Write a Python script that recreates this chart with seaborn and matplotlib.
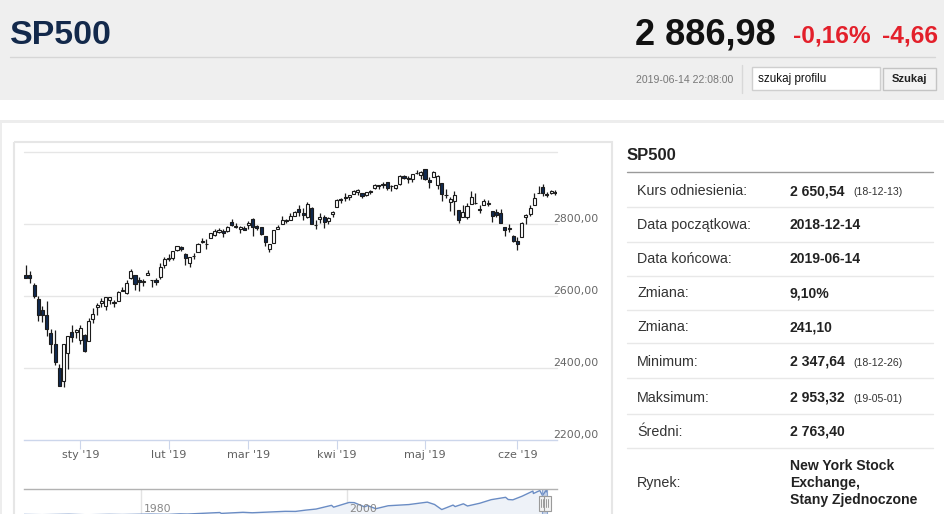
import numpy as np
import pandas as pd
import matplotlib
matplotlib.use("Agg")
import matplotlib.pyplot as plt
from matplotlib.patches import Rectangle
from matplotlib import font_manager
import seaborn as sns

# trading days 2018-12-12 .. 2019-06-14 (NYSE holidays removed)
holidays = ["2018-12-25", "2019-01-01", "2019-01-21", "2019-02-18", "2019-04-19", "2019-05-27"]
dates = pd.bdate_range("2018-12-12", "2019-06-14").drop(pd.to_datetime(holidays))

opens = [2658.2, 2658.7, 2629.7, 2590.8, 2559.9, 2547.1, 2496.8, 2465.4, 2400.6, 2363.1,
         2442.5, 2498.8, 2498.9, 2477.0, 2491.9, 2474.3, 2535.6, 2568.1, 2580.0, 2573.5,
         2588.1, 2580.3, 2585.1, 2614.8, 2609.3, 2651.3, 2657.9, 2643.5, 2638.8, 2657.4,
         2645.0, 2644.9, 2653.6, 2685.5, 2702.3, 2706.5, 2728.3, 2735.1, 2717.5, 2692.4,
         2712.4, 2722.6, 2750.3, 2743.5, 2760.2, 2769.3, 2779.1, 2780.7, 2780.7, 2804.4,
         2792.4, 2787.5, 2788.1, 2798.2, 2814.4, 2794.4, 2790.3, 2766.5, 2730.8, 2747.6,
         2787.3, 2799.8, 2810.4, 2810.8, 2822.6, 2840.8, 2831.3, 2819.7, 2844.5, 2796.0,
         2812.7, 2819.7, 2809.4, 2828.3, 2848.6, 2868.2, 2876.1, 2874.0, 2884.2, 2888.5,
         2886.6, 2881.4, 2891.9, 2900.9, 2908.3, 2912.3, 2916.0, 2904.8, 2898.8, 2910.0,
         2934.0, 2929.0, 2925.8, 2940.6, 2937.1, 2952.3, 2922.2, 2929.2, 2908.9, 2913.0,
         2879.6, 2859.8, 2863.1, 2840.2, 2820.1, 2820.4, 2855.8, 2858.6, 2841.9, 2854.0,
         2856.1, 2836.7, 2832.4, 2830.0, 2790.3, 2786.9, 2766.2, 2751.5, 2762.6, 2818.1,
         2828.5, 2852.9, 2885.8, 2903.3, 2882.7, 2886.2, 2886.8]
highs = [2685.4, 2670.2, 2635.1, 2601.1, 2573.0, 2585.3, 2509.6, 2504.4, 2410.3, 2467.8,
         2489.1, 2520.3, 2509.2, 2519.5, 2493.1, 2538.1, 2566.2, 2579.8, 2595.3, 2597.8,
         2596.3, 2589.3, 2613.1, 2625.8, 2645.1, 2675.5, 2657.9, 2653.2, 2647.2, 2672.4,
         2645.0, 2650.9, 2690.4, 2709.0, 2716.7, 2725.0, 2739.0, 2738.1, 2719.3, 2708.1,
         2718.1, 2748.2, 2761.9, 2757.9, 2775.7, 2787.3, 2789.9, 2785.4, 2794.2, 2813.5,
         2803.1, 2795.8, 2793.7, 2808.0, 2816.9, 2796.4, 2790.3, 2767.3, 2744.1, 2784.0,
         2798.3, 2821.2, 2815.0, 2830.7, 2835.4, 2852.4, 2843.5, 2860.3, 2846.2, 2809.8,
         2829.9, 2825.6, 2819.7, 2836.0, 2869.4, 2872.9, 2885.3, 2881.3, 2893.2, 2896.0,
         2886.9, 2889.7, 2893.4, 2910.5, 2909.6, 2916.1, 2918.0, 2908.5, 2909.5, 2936.3,
         2936.8, 2933.1, 2939.9, 2949.5, 2948.2, 2954.1, 2931.7, 2947.9, 2937.3, 2913.0,
         2898.0, 2876.0, 2891.3, 2840.2, 2852.5, 2858.7, 2892.2, 2885.5, 2853.9, 2868.9,
         2865.5, 2836.7, 2841.4, 2840.5, 2792.0, 2799.0, 2769.0, 2763.1, 2804.5, 2827.3,
         2852.1, 2885.0, 2904.8, 2910.6, 2888.6, 2895.2, 2894.5]
lows = [2650.3, 2637.3, 2593.8, 2530.5, 2528.7, 2489.0, 2441.2, 2408.6, 2351.1, 2346.6,
        2397.9, 2472.9, 2482.8, 2467.5, 2444.0, 2474.3, 2524.6, 2547.6, 2568.9, 2562.0,
        2577.4, 2570.4, 2585.1, 2612.7, 2606.4, 2647.6, 2617.3, 2612.9, 2627.0, 2657.3,
        2624.1, 2631.1, 2648.3, 2678.7, 2696.9, 2698.8, 2724.0, 2724.2, 2687.3, 2681.8,
        2703.8, 2722.6, 2748.6, 2731.2, 2760.2, 2767.3, 2774.1, 2764.3, 2779.1, 2795.0,
        2789.5, 2775.1, 2782.5, 2787.4, 2767.7, 2782.0, 2768.7, 2739.1, 2722.3, 2747.6,
        2786.7, 2799.8, 2803.5, 2810.8, 2822.0, 2823.3, 2812.4, 2817.4, 2800.5, 2785.0,
        2804.0, 2787.7, 2798.8, 2819.2, 2848.6, 2858.8, 2865.2, 2867.1, 2883.0, 2880.8,
        2873.3, 2879.1, 2882.0, 2898.4, 2896.5, 2900.7, 2895.4, 2891.9, 2896.4, 2908.5,
        2926.1, 2912.8, 2917.6, 2939.4, 2924.1, 2923.4, 2900.5, 2929.2, 2898.2, 2862.6,
        2873.3, 2836.4, 2825.4, 2801.4, 2820.1, 2815.1, 2855.8, 2854.2, 2831.3, 2854.0,
        2851.1, 2805.5, 2820.2, 2801.6, 2766.1, 2776.7, 2750.5, 2728.8, 2762.6, 2800.9,
        2822.5, 2852.9, 2885.5, 2878.5, 2874.7, 2882.0, 2879.6]
closes = [2651.1, 2650.5, 2600.0, 2545.9, 2546.2, 2507.0, 2467.4, 2416.6, 2351.1, 2467.7,
          2488.8, 2485.7, 2506.9, 2510.0, 2447.9, 2531.9, 2549.7, 2574.4, 2585.0, 2596.6,
          2596.3, 2582.6, 2610.3, 2616.1, 2636.0, 2670.7, 2632.9, 2638.7, 2642.3, 2664.8,
          2643.9, 2640.0, 2681.1, 2704.1, 2706.5, 2724.9, 2737.7, 2731.6, 2706.1, 2707.9,
          2709.8, 2744.7, 2753.0, 2745.7, 2775.6, 2779.8, 2784.7, 2774.9, 2792.7, 2796.1,
          2793.9, 2792.4, 2784.5, 2803.7, 2792.8, 2789.7, 2771.5, 2748.9, 2743.1, 2783.3,
          2791.5, 2810.9, 2808.5, 2822.5, 2832.9, 2832.6, 2824.2, 2854.9, 2800.7, 2798.4,
          2818.5, 2805.4, 2815.4, 2834.4, 2867.2, 2867.2, 2873.4, 2879.4, 2892.7, 2895.8,
          2878.2, 2888.2, 2888.3, 2907.4, 2905.6, 2907.1, 2900.5, 2905.0, 2908.0, 2933.7,
          2927.3, 2926.2, 2939.9, 2943.0, 2945.8, 2923.7, 2917.5, 2945.6, 2932.5, 2884.1,
          2879.4, 2870.7, 2881.4, 2811.9, 2834.4, 2851.0, 2876.3, 2859.5, 2840.2, 2864.4,
          2856.3, 2822.2, 2826.1, 2802.4, 2783.0, 2788.9, 2752.1, 2744.5, 2803.3, 2826.2,
          2843.5, 2873.3, 2886.7, 2885.7, 2879.8, 2891.6, 2887.0]

y_levels = [2200, 2400, 2600, 2800]
month_names = {1: "sty", 2: "lut", 3: "mar", 4: "kwi", 5: "maj", 6: "cze"}

# long history for the navigator
nav_years = [1968.6, 1970.4, 1973.0, 1974.75, 1976.9, 1978.2, 1980.9, 1982.6, 1983.8, 1984.5,
             1987.65, 1987.8, 1989.9, 1990.8, 1994.0, 1995.0, 1996.0, 1997.0, 1998.5, 1998.7,
             2000.2, 2000.7, 2001.7, 2002.0, 2002.8, 2004.0, 2006.0, 2007.8, 2008.5, 2009.2,
             2010.3, 2010.5, 2011.3, 2011.7, 2012.9, 2014.0, 2015.4, 2015.65, 2016.1, 2017.0,
             2018.05, 2018.1, 2018.72, 2018.98, 2019.33, 2019.42, 2019.45]
nav_values = [98, 72, 118, 64, 107, 87, 140, 103, 170, 150,
              330, 225, 355, 300, 470, 460, 615, 740, 1180, 960,
              1520, 1500, 1000, 1150, 780, 1130, 1270, 1560, 1280, 680,
              1210, 1030, 1360, 1100, 1430, 1850, 2130, 1870, 1830, 2260,
              2870, 2580, 2930, 2351, 2945, 2745, 2887]
nav_grid_years = [1980, 2000]

info_labels = ["Kurs odniesienia:", "Data początkowa:", "Data końcowa:", "Zmiana:", "Zmiana:",
               "Minimum:", "Maksimum:", "Średni:", "Rynek:"]
info_values = ["2 650,54", "2018-12-14", "2019-06-14", "9,10%", "241,10",
               "2 347,64", "2 953,32", "2 763,40", "New York Stock\nExchange,\nStany Zjednoczone"]
info_notes = ["(18-12-13)", "", "", "", "", "(18-12-26)", "(19-05-01)", "", ""]

sns.set_theme(style="white")
plt.rcParams['font.family'] = ['Liberation Sans', 'DejaVu Sans']

names = {f.name for f in font_manager.fontManager.ttflist}
narrow = 'Liberation Sans Narrow' if 'Liberation Sans Narrow' in names else 'Liberation Sans'
k = 1.0 if narrow == 'Liberation Sans Narrow' else 0.84

W, H = 945, 514
fig = plt.figure(figsize=(W / 100, H / 100), dpi=100)
fig.patch.set_facecolor('white')


def rect(x0, y0, x1, y1):
    return [x0 / W, 1 - y1 / H, (x1 - x0) / W, (y1 - y0) / H]


bg = fig.add_axes([0, 0, 1, 1], zorder=0)
bg.set_xlim(0, W)
bg.set_ylim(H, 0)
bg.axis('off')

# header
bg.add_patch(Rectangle((0, 0), W, 100, color='#efefef', lw=0))
bg.plot([10, 935], [57, 57], color='#d6d6d6', lw=1)
bg.text(10, 44, "SP500", family=narrow, fontsize=29 * k, fontweight='bold', color='#13294b', va='baseline')
bg.text(776, 44, "2 886,98", family=narrow, fontsize=31 * k, fontweight='bold', color='#111111',
        va='baseline', ha='right')
bg.text(793, 43, "-0,16%", family=narrow, fontsize=21 * k, fontweight='bold', color='#e3202b', va='baseline')
bg.text(882, 43, "-4,66", family=narrow, fontsize=21 * k, fontweight='bold', color='#e3202b', va='baseline')
bg.text(733, 83, "2019-06-14 22:08:00", family=narrow, fontsize=9 * k, color='#777777', va='baseline', ha='right')
bg.plot([742, 742], [65, 93], color='#d8d8d8', lw=1)
bg.add_patch(Rectangle((752, 67), 128, 23, fc='white', ec='#cfcfcf', lw=1))
bg.text(758, 79, "szukaj profilu", family=narrow, fontsize=10 * k, color='#111111', va='center')
bg.add_patch(Rectangle((883, 68), 53, 22, fc='#f3f3f3', ec='#c4c4c4', lw=1))
bg.text(909.5, 79, "Szukaj", family=narrow, fontsize=9.5 * k, fontweight='bold', color='#222222',
        va='center', ha='center')

# card and chart panel borders
bg.add_patch(Rectangle((0, 119.5), W, 3, color='#ededed', lw=0))
bg.add_patch(Rectangle((0, 119.5), 2, 400, color='#ededed', lw=0))
bg.add_patch(Rectangle((14, 142), 598, 400, fill=False, ec='#e6e6e6', lw=1.5))

# info table
bg.text(627, 155, "SP500", fontsize=12, fontweight='bold', color='#222222', va='center')
bg.plot([627, 933], [172, 172], color='#9a9a9a', lw=1)
row_y = [191, 225, 259, 293, 327, 362, 398, 432, 483]
sep_y = [207, 242, 276, 310, 343, 378, 414, 448]
for yy in sep_y:
    bg.plot([627, 933], [yy, yy], color='#e8e8e8', lw=1)
for lab, val, note, yy in zip(info_labels, info_values, info_notes, row_y):
    bg.text(637, yy, lab, fontsize=10.3, color='#333333', va='center')
    bg.text(790, yy, val, fontsize=10.1, fontweight='bold', color='#222222', va='center', linespacing=1.28)
    if note:
        bg.text(853, yy + 1, note, fontsize=7.6, color='#333333', va='center')

# candlestick chart
o, h, l, c = map(np.array, (opens, highs, lows, closes))
x = np.arange(len(dates))
up = c >= o

ax = fig.add_axes(rect(24, 152, 557, 440), zorder=2)
ax.set_facecolor('none')
for v in y_levels[1:] + [3000]:
    ax.axhline(v, color='#e6e6e6', lw=1, zorder=0, clip_on=False)
ax.vlines(x, l, h, color='#1b1b1b', lw=0.9, zorder=2)
ax.bar(x, np.maximum(np.abs(c - o), 1.0), bottom=np.minimum(o, c), width=0.74,
       color=np.where(up, 'white', '#10294f'), edgecolor='#1b1b1b', lw=0.8, zorder=3)
ax.set_xlim(-0.4, len(dates) - 0.6)
ax.set_ylim(2200, 3000)

for s in ['top', 'left', 'right']:
    ax.spines[s].set_visible(False)
ax.spines['bottom'].set_color('#ccd6eb')
ax.spines['bottom'].set_linewidth(1)

month_idx = [i for i in range(1, len(dates)) if dates[i].month != dates[i - 1].month]
ax.set_xticks(month_idx)
ax.set_xticklabels([f"{month_names[dates[i].month]} '{dates[i].strftime('%y')}" for i in month_idx],
                   family='DejaVu Sans')
ax.tick_params(axis='x', bottom=True, length=6.5, width=0.8, color='#ccd6eb',
               labelcolor='#606060', labelsize=8, pad=1)
ax.set_yticks([])
for v in y_levels:
    ax.annotate(f"{v},00", xy=(1, v), xycoords=('axes fraction', 'data'), xytext=(-4, 2),
                textcoords='offset pixels', ha='left', va='baseline', fontsize=7.8,
                family='DejaVu Sans', color='#666666', annotation_clip=False)

# navigator
nav = fig.add_axes(rect(24, 489, 557, 516), zorder=2)
nav.set_facecolor('none')
nav.set_xlim(1968.64, 2020.39)
nav.set_ylim(-83, 3113)
nav.fill_between(nav_years, nav_values, -100, color='#eef2f8', lw=0)
sns.lineplot(x=nav_years, y=nav_values, ax=nav, color='#6a8cc4', lw=1)
for yr in nav_grid_years:
    nav.axvline(yr, color='#e3e3e3', lw=1, zorder=0)
    nav.text(yr + 0.25, 0.27, str(yr), transform=nav.get_xaxis_transform(), va='center',
             ha='left', fontsize=7.8, family='DejaVu Sans', color='#888888')
for s in ['left', 'right', 'bottom']:
    nav.spines[s].set_visible(False)
nav.spines['top'].set_color('#b2b2b2')
nav.spines['top'].set_linewidth(1)
nav.set_xticks([])
nav.set_yticks([])
nav.set_xlabel('')
nav.set_ylabel('')

start = dates[0].year + (dates[0].dayofyear - 1) / 365
end = dates[-1].year + (dates[-1].dayofyear - 1) / 365
nav.axvspan(start, end, color=(0.4, 0.52, 0.76, 0.3), lw=0)
for e in (start, end):
    nav.axvline(e, color='#8aa4d0', lw=0.8)
    nav.add_patch(Rectangle((e - 0.34, 0.19), 0.68, 0.55, transform=nav.get_xaxis_transform(),
                            fc='#f2f2f2', ec='#9a9a9a', lw=0.8, clip_on=False, zorder=5))
    for dx in (-0.1, 0.1):
        nav.plot([e + dx, e + dx], [0.32, 0.62], transform=nav.get_xaxis_transform(),
                 color='#9a9a9a', lw=0.7, zorder=6, clip_on=False)

fig.savefig("out.png", dpi=100)
